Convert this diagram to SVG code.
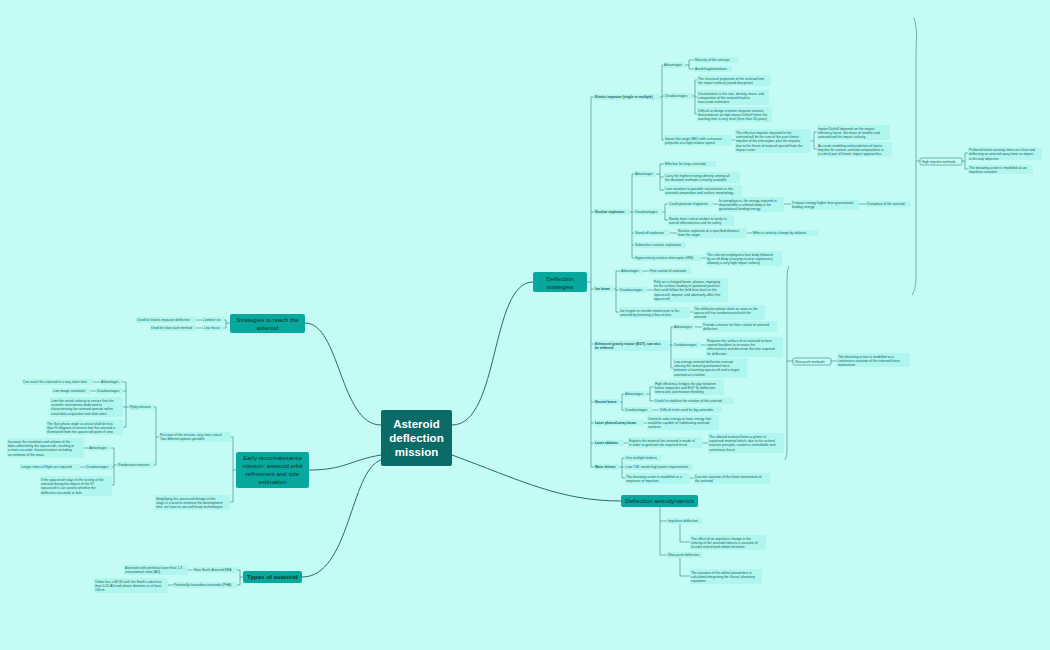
<svg xmlns="http://www.w3.org/2000/svg" width="1050" height="650" viewBox="0 0 1050 650">
<style>
.t{font-family:"Liberation Sans",Arial,sans-serif;font-size:3.4px;fill:#1e5e5b}
.bd{font-weight:bold}
.b{fill:#aef6ee}
.s{fill:#c4fbf5;stroke:#2f8582;stroke-width:0.6}
.c{fill:none;stroke:#2f7f7c;stroke-width:0.6}
.m{fill:none;stroke:#206f6c;stroke-width:1}
.tp{fill:#08a89e}
.tt{font-family:"Liberation Sans",Arial,sans-serif;font-size:6.2px;fill:#0b3533;text-anchor:middle}
</style>
<rect width="1050" height="650" fill="#c4fbf5"/>
<g id="connectors">
<path class="m" d="M452 425C500 425 490 282 533 282M452 455C520 480 560 501 621 501M381 425C340 425 340 323 305 323M381 455C350 460 345 470 309 470M381 460C350 470 350 577 302 577"/>
<path class="c" d="M587 282H591M591 97V467M591 97H594M591 212H594M591 289H594M591 344H594M591 402H594M591 423H594M591 443H594M591 467H594"/>
<path class="c" d="M660 97H662M662 65V140M662 65H663M662 96H664M662 140H664M685 65H689M689 60V69M689 60H694M689 69H694M692 96H695M695 80V114M695 80H697M695 97H697M695 114H697M732 140H735M811 141H814M814 132V149M814 132H817M814 149H817"/>
<path class="c" d="M914 18C918 30 916 40 916 60V275C916 285 915 290 912 295M916 161H920M962 161H965M965 153V169M965 153H968M965 169H968"/>
<path class="c" d="M630 212H632M632 174V258M632 174H634M632 212H634M632 233H634M632 245H634M632 258H634M656 174H660M660 164V190M660 164H664M660 177H664M660 190H664M662 212H665M665 204V220M665 204H668M665 220H668M713 204H718M784 204H791M859 204H866M670 233H677M747 233H752M701 258H706"/>
<path class="c" d="M614 289H616M616 271V312M616 271H620M616 290H619M616 312H619M642 271H649M647 290H653M690 312H693M669 345H671M671 327V368M671 327H673M671 345H673M671 368H673M695 327H702M701 345H706"/>
<path class="c" d="M789 266C787 270 787 275 787 285V445C787 452 787 456 785 460M787 361H793M831 361H837"/>
<path class="c" d="M620 402H622M622 394V410M622 394H624M622 410H624M646 394H650M650 387V401M650 387H654M650 401H654M652 410H659M644 423H647M624 443H628M703 443H708M619 467H622M622 458V478M622 458H625M622 467H625M622 478H625M690 478H694"/>
<path class="c" d="M660 507V555M660 521H667M660 555H667M680 524V542H690M680 558V576H690"/>
<path class="c" d="M230 323H226M226 320V328M226 320H224M226 328H223M202 320H196M203 328H196M236 470H233M233 437V502M233 437H231M233 502H230M159 437H156M156 407V465M156 407H154M156 465H154M129 407H126M126 382V427M126 382H122M126 391H123M126 407H123M126 427H123M100 382H93M96 391H90M117 465H114M114 448V485M114 448H111M114 467H112M114 485H112M88 448H84M85 467H80M243 577H240M240 570V585M240 570H237M240 585H237M193 570H188M173 585H168"/>
</g>
<g id="center"><rect x="381" y="410" width="71" height="56" rx="2" fill="#0b6b66"/><text font-family="Liberation Sans,Arial,sans-serif" font-size="11.5" font-weight="bold" fill="#fff" text-anchor="middle"><tspan x="416.5" y="428">Asteroid</tspan><tspan x="416.5" y="442">deflection</tspan><tspan x="416.5" y="456">mission</tspan></text></g>
<g id="t-ds"><rect class="tp" x="533" y="272" width="54" height="20" rx="2"/><text class="tt"><tspan x="560" y="281">Deflection</tspan><tspan x="560" y="289">strategies</tspan></text></g>
<g id="t-da"><rect class="tp" x="621" y="495" width="77" height="12" rx="2"/><text class="tt"><tspan x="659.5" y="503">Deflection astrodynamics</tspan></text></g>
<g id="t-sr"><rect class="tp" x="230" y="314" width="75" height="19" rx="2"/><text class="tt"><tspan x="267.5" y="322">Strategies to reach the</tspan><tspan x="267.5" y="330">asteroid</tspan></text></g>
<g id="t-er"><rect class="tp" x="236" y="452" width="73" height="36" rx="2"/><text class="tt"><tspan x="272.5" y="460">Early reconnaissance</tspan><tspan x="272.5" y="468">mission: asteroid orbit</tspan><tspan x="272.5" y="476">refinement and size</tspan><tspan x="272.5" y="484">estimation</tspan></text></g>
<g id="t-ty"><rect class="tp" x="243" y="571" width="59" height="12" rx="2"/><text class="tt bd" style="font-weight:bold"><tspan x="272.5" y="579">Types of asteroid</tspan></text></g>

<g id="n-ki"><rect class="b" x="594" y="94" width="66" height="6" rx="1"/><text class="t bd" x="595" y="98.2">Kinetic impactor (single or multiple)</text></g>
<g id="n-ki-a"><rect class="b" x="663" y="62" width="22" height="6" rx="1"/><text class="t" x="664" y="66.2">Advantages</text></g>
<g id="n-ki-a1"><rect class="b" x="694" y="57" width="44" height="6" rx="1"/><text class="t" x="695" y="61.2">Maturity of the concept</text></g>
<g id="n-ki-a2"><rect class="b" x="694" y="66" width="38" height="6" rx="1"/><text class="t" x="695" y="70.2">Avoid fragmentations</text></g>
<g id="n-ki-d"><rect class="b" x="664" y="93" width="28" height="6" rx="1"/><text class="t" x="665" y="97.2">Disadvantages</text></g>
<g id="n-ki-d1"><rect class="b" x="697" y="75" width="74" height="11" rx="1"/><text class="t"><tspan x="698" y="79.5">The structural properties of the asteroid limit</tspan><tspan x="698" y="83.9">the impact velocity (avoid disruption)</tspan></text></g>
<g id="n-ki-d2"><rect class="b" x="697" y="90" width="72" height="15" rx="1"/><text class="t"><tspan x="698" y="94.5">Uncertainties in the size, density, mass, and</tspan><tspan x="698" y="98.9">composition of the asteroid lead to</tspan><tspan x="698" y="103.3">inaccurate estimates</tspan></text></g>
<g id="n-ki-d3"><rect class="b" x="697" y="107" width="75" height="15" rx="1"/><text class="t"><tspan x="698" y="111.5">Difficult to design a kinetic impactor mission</tspan><tspan x="698" y="115.9">that produces an high impact DeltaV when the</tspan><tspan x="698" y="120.3">warning time is very short (less than 10 years)</tspan></text></g>
<g id="n-ki-i"><rect class="b" x="664" y="135" width="68" height="11" rx="1"/><text class="t"><tspan x="665" y="139.5">Impact the target NEO with a massive</tspan><tspan x="665" y="143.9">projectile at a high relative speed</tspan></text></g>
<g id="n-ki-e"><rect class="b" x="735" y="129" width="76" height="24" rx="1"/><text class="t"><tspan x="736" y="133.5">The effective impulse imparted to the</tspan><tspan x="736" y="137.9">asteroid will be the sum of the pure kinetic</tspan><tspan x="736" y="142.3">impulse of the interceptor, plus the impulse</tspan><tspan x="736" y="146.7">due to the thrust of material ejected from the</tspan><tspan x="736" y="151.1">impact crater</tspan></text></g>
<g id="n-ki-e1"><rect class="b" x="817" y="125" width="73" height="15" rx="1"/><text class="t"><tspan x="818" y="129.5">Impact DeltaV depends on the impact</tspan><tspan x="818" y="133.9">efficiency factor, the mass of satellite and</tspan><tspan x="818" y="138.3">asteroid and the impact velocity</tspan></text></g>
<g id="n-ki-e2"><rect class="b" x="817" y="142" width="75" height="15" rx="1"/><text class="t"><tspan x="818" y="146.5">Accurate modeling and prediction of ejecta</tspan><tspan x="818" y="150.9">impulse for various asteroid compositions is</tspan><tspan x="818" y="155.3">a critical part of kinetic impact approaches.</tspan></text></g>
<g id="n-him"><rect class="s" x="920" y="158" width="42" height="7" rx="1.5"/><text class="t" x="922" y="162.7">High impulse methods</text></g>
<g id="n-him1"><rect class="b" x="968" y="147" width="74" height="13" rx="1"/><text class="t"><tspan x="969" y="151">Preferred when warning times are short and</tspan><tspan x="969" y="155.4">deflecting an asteroid away from an impact</tspan><tspan x="969" y="159.8">is the only objective</tspan></text></g>
<g id="n-him2"><rect class="b" x="968" y="165" width="65" height="9" rx="1"/><text class="t"><tspan x="969" y="169">The deviating action is modelled as an</tspan><tspan x="969" y="173.2">impulsive variation</tspan></text></g>

<g id="n-ne"><rect class="b" x="594" y="209" width="36" height="6" rx="1"/><text class="t bd" x="595" y="213.2">Nuclear explosion</text></g>
<g id="n-ne-a"><rect class="b" x="634" y="171" width="22" height="6" rx="1"/><text class="t" x="635" y="175.2">Advantages</text></g>
<g id="n-ne-a1"><rect class="b" x="664" y="161" width="52" height="6" rx="1"/><text class="t" x="665" y="165.2">Effective for large asteroids</text></g>
<g id="n-ne-a2"><rect class="b" x="664" y="172" width="76" height="11" rx="1"/><text class="t"><tspan x="665" y="176.5">Carry the highest energy density among all</tspan><tspan x="665" y="180.9">the deviation methods currently available</tspan></text></g>
<g id="n-ne-a3"><rect class="b" x="664" y="185" width="78" height="11" rx="1"/><text class="t"><tspan x="665" y="189.5">Less sensitive to possible uncertainties in the</tspan><tspan x="665" y="193.9">asteroid composition and surface morphology</tspan></text></g>
<g id="n-ne-d"><rect class="b" x="634" y="209" width="28" height="6" rx="1"/><text class="t" x="635" y="213.2">Disadvantages</text></g>
<g id="n-ne-d1"><rect class="b" x="668" y="201" width="45" height="6" rx="1"/><text class="t" x="669" y="205.2">Could generate fragments</text></g>
<g id="n-ne-d1a"><rect class="b" x="718" y="197" width="66" height="15" rx="1"/><text class="t"><tspan x="719" y="201.5">In astrophysics, the energy required to</tspan><tspan x="719" y="205.9">disassemble a celestial body is the</tspan><tspan x="719" y="210.3">gravitational binding energy</tspan></text></g>
<g id="n-ne-d1b"><rect class="b" x="791" y="200" width="68" height="10" rx="1"/><text class="t"><tspan x="792" y="204">If impact energy higher than gravitational</tspan><tspan x="792" y="208.4">binding energy</tspan></text></g>
<g id="n-ne-d1c"><rect class="b" x="866" y="201" width="45" height="6" rx="1"/><text class="t" x="867" y="205.2">Disruption of the asteroid</text></g>
<g id="n-ne-d2"><rect class="b" x="668" y="215" width="66" height="11" rx="1"/><text class="t"><tspan x="669" y="219.5">Needs more critical studies to verify its</tspan><tspan x="669" y="223.9">overall effectiveness and for safety</tspan></text></g>
<g id="n-ne-s"><rect class="b" x="634" y="230" width="36" height="6" rx="1"/><text class="t" x="635" y="234.2">Stand-off explosion</text></g>
<g id="n-ne-s1"><rect class="b" x="677" y="228" width="70" height="10" rx="1"/><text class="t"><tspan x="678" y="232">Nuclear explosion at a specified distance</tspan><tspan x="678" y="236.4">from the target</tspan></text></g>
<g id="n-ne-s2"><rect class="b" x="752" y="230" width="66" height="6" rx="1"/><text class="t" x="753" y="234.2">Effect a velocity change by ablation</text></g>
<g id="n-ne-u"><rect class="b" x="634" y="242" width="52" height="6" rx="1"/><text class="t" x="635" y="246.2">Subsurface nuclear explosives</text></g>
<g id="n-ne-h"><rect class="b" x="634" y="255" width="67" height="6" rx="1"/><text class="t" x="635" y="259.2">Hypervelocity nuclear interceptor (HNI)</text></g>
<g id="n-ne-h1"><rect class="b" x="706" y="251" width="76" height="15" rx="1"/><text class="t"><tspan x="707" y="255.5">The concept employed a fore body followed</tspan><tspan x="707" y="259.9">by an aft body (carrying nuclear explosives),</tspan><tspan x="707" y="264.3">allowing a very high impact velocity</tspan></text></g>

<g id="n-ib"><rect class="b" x="594" y="286" width="20" height="6" rx="1"/><text class="t bd" x="595" y="290.2">Ion beam</text></g>
<g id="n-ib-a"><rect class="b" x="620" y="268" width="22" height="6" rx="1"/><text class="t" x="621" y="272.2">Advantages</text></g>
<g id="n-ib-a1"><rect class="b" x="649" y="268" width="42" height="6" rx="1"/><text class="t" x="650" y="272.2">Fine control of asteroids</text></g>
<g id="n-ib-d"><rect class="b" x="619" y="287" width="28" height="6" rx="1"/><text class="t" x="620" y="291.2">Disadvantages</text></g>
<g id="n-ib-d1"><rect class="b" x="653" y="278" width="75" height="24" rx="1"/><text class="t"><tspan x="654" y="282.5">Rely on a charged beam, plasma, impinging</tspan><tspan x="654" y="286.9">on the surface leading to sputtered particles</tspan><tspan x="654" y="291.3">that could follow the field lines back to the</tspan><tspan x="654" y="295.7">spacecraft, deposit, and adversely affect the</tspan><tspan x="654" y="300.1">spacecraft</tspan></text></g>
<g id="n-ib-e"><rect class="b" x="619" y="307" width="71" height="11" rx="1"/><text class="t"><tspan x="620" y="311.5">Ion engine to transfer momentum to the</tspan><tspan x="620" y="315.9">asteroid by beaming a flow of ions</tspan></text></g>
<g id="n-ib-e1"><rect class="b" x="693" y="305" width="72" height="15" rx="1"/><text class="t"><tspan x="694" y="309.5">The deflection phase starts as soon as the</tspan><tspan x="694" y="313.9">spacecraft has rendezvoused with the</tspan><tspan x="694" y="318.3">asteroid</tspan></text></g>

<g id="n-egt"><rect class="b" x="594" y="340" width="75" height="11" rx="1"/><text class="t bd"><tspan x="595" y="344.5">Enhanced gravity tractor (EGT), can also</tspan><tspan x="595" y="348.9">be tethered</tspan></text></g>
<g id="n-egt-a"><rect class="b" x="673" y="324" width="22" height="6" rx="1"/><text class="t" x="674" y="328.2">Advantages</text></g>
<g id="n-egt-a1"><rect class="b" x="702" y="321" width="75" height="11" rx="1"/><text class="t"><tspan x="703" y="325.5">Provide a means for finer control of asteroid</tspan><tspan x="703" y="329.9">deflection</tspan></text></g>
<g id="n-egt-d"><rect class="b" x="673" y="342" width="28" height="6" rx="1"/><text class="t" x="674" y="346.2">Disadvantages</text></g>
<g id="n-egt-d1"><rect class="b" x="706" y="337" width="77" height="20" rx="1"/><text class="t"><tspan x="707" y="341.5">Requires the surface of an asteroid to have</tspan><tspan x="707" y="345.9">several boulders to increase the</tspan><tspan x="707" y="350.3">effectiveness and decrease the time required</tspan><tspan x="707" y="354.7">for deflection</tspan></text></g>
<g id="n-egt-l"><rect class="b" x="673" y="358" width="74" height="20" rx="1"/><text class="t"><tspan x="674" y="362.5">Low-energy asteroid deflection concept</tspan><tspan x="674" y="366.9">utilizing the mutual gravitational force</tspan><tspan x="674" y="371.3">between a hovering spacecraft and a target</tspan><tspan x="674" y="375.7">asteroid as a towline</tspan></text></g>
<g id="n-spm"><rect class="s" x="793" y="358" width="38" height="7" rx="1.5"/><text class="t" x="795" y="362.7">Slow push methods</text></g>
<g id="n-spm1"><rect class="b" x="837" y="353" width="73" height="14" rx="1"/><text class="t"><tspan x="838" y="357.5">The deviating action is modelled as a</tspan><tspan x="838" y="361.9">continuous variation of the asteroid linear</tspan><tspan x="838" y="366.3">momentum</tspan></text></g>

<g id="n-nb"><rect class="b" x="594" y="399" width="26" height="6" rx="1"/><text class="t bd" x="595" y="403.2">Neutral beam</text></g>
<g id="n-nb-a"><rect class="b" x="624" y="391" width="22" height="6" rx="1"/><text class="t" x="625" y="395.2">Advantages</text></g>
<g id="n-nb-a1"><rect class="b" x="654" y="380" width="70" height="15" rx="1"/><text class="t"><tspan x="655" y="384.5">High efficiency, bridges the gap between</tspan><tspan x="655" y="388.9">kinetic impactors and EGT for deflection</tspan><tspan x="655" y="393.3">timescales and mission flexibility</tspan></text></g>
<g id="n-nb-a2"><rect class="b" x="654" y="398" width="80" height="6" rx="1"/><text class="t" x="655" y="402.2">Useful to stabilize the rotation of the asteroid</text></g>
<g id="n-nb-d"><rect class="b" x="624" y="407" width="28" height="6" rx="1"/><text class="t" x="625" y="411.2">Disadvantages</text></g>
<g id="n-nb-d1"><rect class="b" x="659" y="407" width="63" height="6" rx="1"/><text class="t" x="660" y="411.2">Difficult to be used for big asteroids</text></g>
<g id="n-lp"><rect class="b" x="594" y="420" width="50" height="6" rx="1"/><text class="t bd" x="595" y="424.2">Laser phased-array beam</text></g>
<g id="n-lp1"><rect class="b" x="647" y="415" width="72" height="15" rx="1"/><text class="t"><tspan x="648" y="419.5">Converts solar energy to laser energy that</tspan><tspan x="648" y="423.9">would be capable of sublimating asteroid</tspan><tspan x="648" y="428.3">surfaces</tspan></text></g>
<g id="n-la"><rect class="b" x="594" y="440" width="30" height="6" rx="1"/><text class="t bd" x="595" y="444.2">Laser ablation</text></g>
<g id="n-la1"><rect class="b" x="628" y="437" width="75" height="11" rx="1"/><text class="t"><tspan x="629" y="441.5">Exploits the material the asteroid is made of</tspan><tspan x="629" y="445.9">in order to generate the required thrust</tspan></text></g>
<g id="n-la2"><rect class="b" x="708" y="433" width="76" height="20" rx="1"/><text class="t"><tspan x="709" y="437.5">The ablated material forms a plume of</tspan><tspan x="709" y="441.9">vaporised material which, due to the actions'</tspan><tspan x="709" y="446.3">reaction principle, creates a controllable and</tspan><tspan x="709" y="450.7">continuous thrust</tspan></text></g>
<g id="n-md"><rect class="b" x="594" y="464" width="25" height="6" rx="1"/><text class="t bd" x="595" y="468.2">Mass drivers</text></g>
<g id="n-md1"><rect class="b" x="625" y="455" width="36" height="6" rx="1"/><text class="t" x="626" y="459.2">Use multiple landers</text></g>
<g id="n-md2"><rect class="b" x="625" y="464" width="68" height="6" rx="1"/><text class="t" x="626" y="468.2">Low T/M, needs high power requirements</text></g>
<g id="n-md3"><rect class="b" x="625" y="473" width="65" height="11" rx="1"/><text class="t"><tspan x="626" y="477.5">The deviating action is modelled as a</tspan><tspan x="626" y="481.9">sequence of impulses</tspan></text></g>
<g id="n-md3a"><rect class="b" x="694" y="473" width="76" height="11" rx="1"/><text class="t"><tspan x="695" y="477.5">Discrete variation of the linear momentum of</tspan><tspan x="695" y="481.9">the asteroid</tspan></text></g>

<g id="n-da1"><rect class="b" x="667" y="518" width="35" height="6" rx="1"/><text class="t" x="668" y="522.2">Impulsive deflection</text></g>
<g id="n-da1a"><rect class="b" x="690" y="535" width="76" height="15" rx="1"/><text class="t"><tspan x="691" y="539.5">The effect of an impulsive change in the</tspan><tspan x="691" y="543.9">velocity of the asteroid induces a variation of</tspan><tspan x="691" y="548.3">its orbit and related orbital elements</tspan></text></g>
<g id="n-da2"><rect class="b" x="667" y="552" width="36" height="6" rx="1"/><text class="t" x="668" y="556.2">Slow-push deflection</text></g>
<g id="n-da2a"><rect class="b" x="690" y="569" width="72" height="15" rx="1"/><text class="t"><tspan x="691" y="573.5">The variation of the orbital parameters is</tspan><tspan x="691" y="577.9">calculated integrating the Gauss' planetary</tspan><tspan x="691" y="582.3">equations</tspan></text></g>

<g id="n-sr1"><rect class="b" x="202" y="317" width="22" height="6" rx="1"/><text class="t" x="203" y="321.2">Lambert arc</text></g>
<g id="n-sr1a"><rect class="b" x="136" y="317" width="60" height="6" rx="1"/><text class="t" x="137" y="321.2">Used for kinetic impactor deflection</text></g>
<g id="n-sr2"><rect class="b" x="203" y="325" width="20" height="6" rx="1"/><text class="t" x="204" y="329.2">Low thrust</text></g>
<g id="n-sr2a"><rect class="b" x="150" y="325" width="46" height="6" rx="1"/><text class="t" x="151" y="329.2">Used for slow push method</text></g>

<g id="n-er1"><rect class="b" x="159" y="432" width="72" height="10" rx="1"/><text class="t"><tspan x="160" y="436">First part of the mission, very time critical.</tspan><tspan x="160" y="440.4">Two different options possible</tspan></text></g>
<g id="n-er2"><rect class="b" x="155" y="495" width="75" height="15" rx="1"/><text class="t"><tspan x="156" y="499.5">Simplifying the spacecraft design at this</tspan><tspan x="156" y="503.9">stage is crucial to minimize the development</tspan><tspan x="156" y="508.3">time, we have to use well know technologies</tspan></text></g>
<g id="n-fm"><rect class="b" x="129" y="404" width="25" height="6" rx="1"/><text class="t" x="130" y="408.2">Flyby mission</text></g>
<g id="n-fm-a"><rect class="b" x="100" y="379" width="22" height="6" rx="1"/><text class="t" x="101" y="383.2">Advantages</text></g>
<g id="n-fm-a1"><rect class="b" x="22" y="379" width="71" height="6" rx="1"/><text class="t" x="23" y="383.2">Can reach the asteroid in a very short time</text></g>
<g id="n-fm-d"><rect class="b" x="96" y="388" width="27" height="6" rx="1"/><text class="t" x="97" y="392.2">Disadvantages</text></g>
<g id="n-fm-d1"><rect class="b" x="52" y="388" width="38" height="6" rx="1"/><text class="t" x="53" y="392.2">Low image resolution</text></g>
<g id="n-fm-l"><rect class="b" x="50" y="397" width="73" height="20" rx="1"/><text class="t"><tspan x="51" y="401.5">Limit the arrival velocity to ensure that the</tspan><tspan x="51" y="405.9">scientific instruments dedicated to</tspan><tspan x="51" y="410.3">characterizing the asteroid operate within</tspan><tspan x="51" y="414.7">usual data acquisition and slow rates</tspan></text></g>
<g id="n-fm-s"><rect class="b" x="46" y="420" width="77" height="15" rx="1"/><text class="t"><tspan x="47" y="424.5">The Sun phase angle at arrival shall be less</tspan><tspan x="47" y="428.9">than 90 degrees to ensure that the asteroid is</tspan><tspan x="47" y="433.3">illuminated from the spacecraft point of view</tspan></text></g>
<g id="n-rm"><rect class="b" x="117" y="462" width="37" height="6" rx="1"/><text class="t" x="118" y="466.2">Rendezvous mission</text></g>
<g id="n-rm-a"><rect class="b" x="88" y="445" width="23" height="6" rx="1"/><text class="t" x="89" y="449.2">Advantages</text></g>
<g id="n-rm-a1"><rect class="b" x="7" y="438" width="77" height="20" rx="1"/><text class="t"><tspan x="8" y="442.5">Increase the resolution and volume of the</tspan><tspan x="8" y="446.9">data collected by the spacecraft, resulting in</tspan><tspan x="8" y="451.3">a more accurate characterisation including</tspan><tspan x="8" y="455.7">an estimate of the mass</tspan></text></g>
<g id="n-rm-d"><rect class="b" x="85" y="464" width="27" height="6" rx="1"/><text class="t" x="86" y="468.2">Disadvantages</text></g>
<g id="n-rm-d1"><rect class="b" x="20" y="464" width="60" height="6" rx="1"/><text class="t" x="21" y="468.2">Longer times of flight are required</text></g>
<g id="n-rm-i"><rect class="b" x="40" y="476" width="72" height="20" rx="1"/><text class="t"><tspan x="41" y="480.5">If the spacecraft stays in the vicinity of the</tspan><tspan x="41" y="484.9">asteroid during the impact of the KI</tspan><tspan x="41" y="489.3">spacecraft it can assess whether the</tspan><tspan x="41" y="493.7">deflection succeeds or fails</tspan></text></g>

<g id="n-nea"><rect class="b" x="193" y="567" width="44" height="6" rx="1"/><text class="t" x="194" y="571.2">Near Earth Asteroid NEA</text></g>
<g id="n-nea1"><rect class="b" x="124" y="565" width="64" height="10" rx="1"/><text class="t"><tspan x="125" y="569">Asteroids with perihelia lower than 1.3</tspan><tspan x="125" y="573.4">astronomical units (AU)</tspan></text></g>
<g id="n-pha"><rect class="b" x="173" y="582" width="64" height="6" rx="1"/><text class="t" x="174" y="586.2">Potentially hazardous asteroids (PHA)</text></g>
<g id="n-pha1"><rect class="b" x="94" y="578" width="74" height="15" rx="1"/><text class="t"><tspan x="95" y="582.5">Orbits has a MOID with the Earth's orbit less</tspan><tspan x="95" y="586.9">than 0.05 AU and whose diameter is at least</tspan><tspan x="95" y="591.3">100 m.</tspan></text></g>
</svg>
